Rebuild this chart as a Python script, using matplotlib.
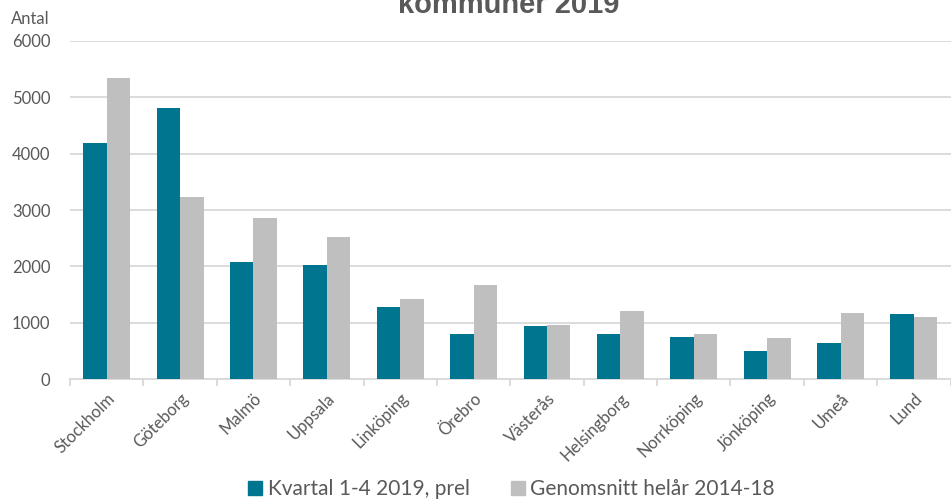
import numpy as np
import matplotlib
matplotlib.use("Agg")
import matplotlib.pyplot as plt
from matplotlib.patches import Patch

# -------------------------
# Data
# -------------------------
kommuner = ["Stockholm", "Göteborg", "Malmö", "Uppsala", "Linköping", "Örebro",
            "Västerås", "Helsingborg", "Norrköping", "Jönköping", "Umeå", "Lund"]
kvartal_2019 = [4190, 4810, 2080, 2025, 1280, 800, 935, 805, 740, 497, 640, 1155]
snitt_2014_18 = [5345, 3230, 2860, 2520, 1420, 1670, 960, 1213, 805, 733, 1166, 1100]
series_labels = ["Kvartal 1-4 2019, prel", "Genomsnitt helår 2014-18"]
yticks = [0, 1000, 2000, 3000, 4000, 5000, 6000]

TEAL = "#00758F"
GRAY = "#BFBFBF"
GRID = "#D9D9D9"
TEXT = "#595959"

plt.rcParams["font.family"] = ["Lato", "DejaVu Sans"]

fig = plt.figure(figsize=(9.51, 5.03), dpi=100)
ax = fig.add_axes([0.0736, 0.2465, 0.926, 0.672])

x = np.arange(len(kommuner))
w = 0.32
ax.bar(x - w / 2, kvartal_2019, width=w, color=TEAL, zorder=3)
ax.bar(x + w / 2, snitt_2014_18, width=w, color=GRAY, zorder=3)

ax.set_xlim(-0.5, len(kommuner) - 0.5)
ax.set_ylim(0, 6000)
ax.set_yticks(yticks)
ax.set_yticklabels([str(v) for v in yticks], fontsize=12, color=TEXT)
ax.yaxis.grid(True, color=GRID, linewidth=1.3, zorder=0)
ax.tick_params(axis="y", length=0, pad=14)

ax.set_xticks(x)
ax.set_xticklabels(kommuner, rotation=45, ha="right", rotation_mode="anchor",
                   fontsize=12, color=TEXT)
ax.tick_params(axis="x", which="major", length=0, pad=8)
ax.set_xticks(np.arange(-0.5, len(kommuner), 1.0), minor=True)
ax.tick_params(axis="x", which="minor", length=5, color=GRID, width=1.3)

for side in ["top", "right", "left"]:
    ax.spines[side].set_visible(False)
ax.spines["bottom"].set_color(GRID)
ax.spines["bottom"].set_linewidth(1.3)

fig.text(0.011, 0.962, "Antal", fontsize=12, color=TEXT, va="center")
# title is cut at the top edge, as in the source image
fig.text(0.535, 0.974, "kommuner 2019", fontsize=21, fontweight="bold",
         color=TEXT, ha="center", va="baseline", family=["Liberation Sans", "DejaVu Sans"])

handles = [Patch(color=TEAL), Patch(color=GRAY)]
fig.legend(handles, series_labels, loc="center", bbox_to_anchor=(0.538, 0.028),
           ncol=2, frameon=False, fontsize=15, handlelength=0.67, handleheight=0.67,
           handletextpad=0.25, columnspacing=2.0, labelcolor=TEXT)

fig.savefig("out.png", dpi=100)
